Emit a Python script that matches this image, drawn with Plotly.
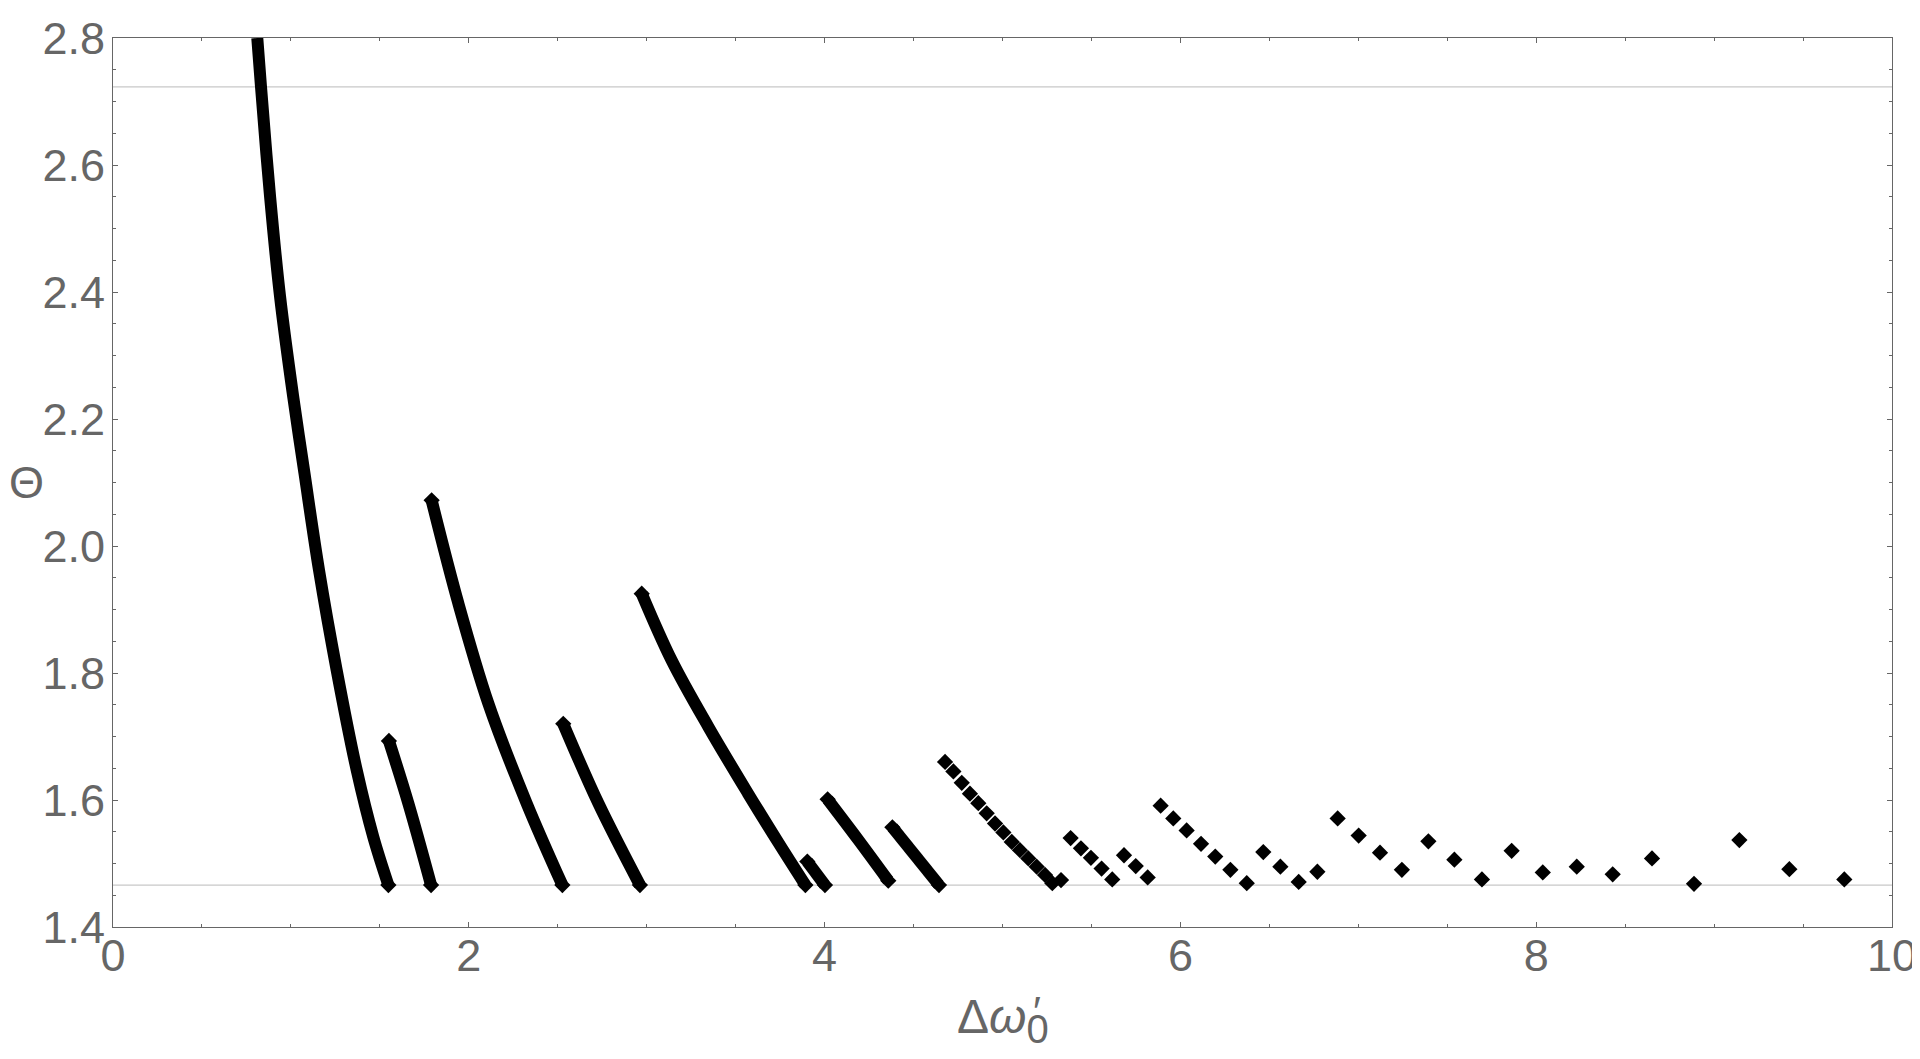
import plotly.graph_objects as go

# ---- data ----
seg1_x = [0.811, 0.832, 0.883, 0.939, 1.013, 1.076, 1.158, 1.257, 1.370, 1.463, 1.548]
seg1_y = [2.800, 2.723, 2.550, 2.393, 2.235, 2.115, 1.962, 1.805, 1.647, 1.542, 1.466]

seg2_x = [1.551, 1.660, 1.788]
seg2_y = [1.693, 1.595, 1.466]

seg3_x = [1.791, 1.941, 2.110, 2.325, 2.526]
seg3_y = [2.072, 1.910, 1.752, 1.595, 1.466]

seg4_x = [2.531, 2.728, 2.962]
seg4_y = [1.720, 1.595, 1.466]

seg5_x = [2.972, 3.140, 3.347, 3.568, 3.742, 3.892]
seg5_y = [1.925, 1.820, 1.715, 1.611, 1.532, 1.466]

seg6_x = [3.903, 4.002]
seg6_y = [1.503, 1.466]

seg7_x = [4.017, 4.190, 4.358]
seg7_y = [1.601, 1.537, 1.473]

seg8_x = [4.381, 4.643]
seg8_y = [1.557, 1.466]

points_x = [4.677, 4.724, 4.771, 4.817, 4.864, 4.911, 4.958, 5.005, 5.052, 5.098,
            5.145, 5.192, 5.239, 5.280, 5.329,
            5.383, 5.441, 5.497, 5.557, 5.617,
            5.683, 5.749, 5.816,
            5.889, 5.960, 6.035, 6.116, 6.196, 6.281, 6.373,
            6.466, 6.562, 6.665, 6.770,
            6.884, 7.002, 7.122, 7.245,
            7.394, 7.540, 7.695, 7.862, 8.037, 8.228, 8.430, 8.651, 8.887,
            9.142, 9.423, 9.732]
points_y = [1.660, 1.645, 1.627, 1.610, 1.595, 1.579, 1.563, 1.549, 1.534, 1.521,
            1.508, 1.495, 1.482, 1.469, 1.474,
            1.540, 1.524, 1.509, 1.492, 1.475,
            1.513, 1.496, 1.478,
            1.591, 1.571, 1.552, 1.531, 1.511, 1.490, 1.469,
            1.518, 1.495, 1.471, 1.487,
            1.571, 1.544, 1.517, 1.490,
            1.535, 1.506, 1.475, 1.520, 1.486, 1.495, 1.483, 1.508, 1.468,
            1.537, 1.491, 1.475]

ref_levels = [2.723, 1.466]

x_range = [0, 10]
y_range = [1.4, 2.8]

# ---- figure ----
AX = "#666666"
FONT = "Liberation Sans, Arial, sans-serif"
LW = 12
MS = 12.5
fig = go.Figure()

for lv in ref_levels:
    fig.add_shape(type="line", xref="paper", x0=0, x1=1, yref="y", y0=lv, y1=lv,
                  line=dict(color="#c8c8c8", width=1.3), layer="below")

segments = [(seg1_x, seg1_y, False), (seg2_x, seg2_y, True), (seg3_x, seg3_y, True),
            (seg4_x, seg4_y, True), (seg5_x, seg5_y, True), (seg6_x, seg6_y, True),
            (seg7_x, seg7_y, True), (seg8_x, seg8_y, True)]

for sx, sy, top_mark in segments:
    fig.add_trace(go.Scatter(x=sx, y=sy, mode="lines",
                             line=dict(color="black", width=LW, shape="spline", smoothing=1.0),
                             hoverinfo="skip", showlegend=False))
    ex = [sx[0], sx[-1]] if top_mark else [sx[-1]]
    ey = [sy[0], sy[-1]] if top_mark else [sy[-1]]
    fig.add_trace(go.Scatter(x=ex, y=ey, mode="markers",
                             marker=dict(symbol="diamond", size=MS, color="black",
                                         line=dict(width=0)),
                             hoverinfo="skip", showlegend=False))

fig.add_trace(go.Scatter(x=points_x, y=points_y, mode="markers",
                         marker=dict(symbol="diamond", size=MS, color="black",
                                     line=dict(width=0)),
                         showlegend=False))

axis_common = dict(
    showgrid=False, zeroline=False, showline=True, linecolor=AX, linewidth=1,
    mirror="ticks", ticks="inside", ticklen=5, tickwidth=1, tickcolor=AX,
    tickfont=dict(family=FONT, size=45, color=AX), automargin=False,
)

fig.update_xaxes(range=x_range, tick0=0, dtick=2, ticklabelstandoff=-11,
                 minor=dict(dtick=0.5, ticks="inside", ticklen=3, tickcolor=AX, showgrid=False),
                 **axis_common)
fig.update_yaxes(range=y_range, tick0=1.4, dtick=0.2, tickformat=".1f", ticklabelstandoff=-2,
                 minor=dict(dtick=0.05, ticks="inside", ticklen=3, tickcolor=AX, showgrid=False),
                 **axis_common)

fig.add_annotation(xref="paper", yref="paper", x=-0.0485, y=0.5, text="Θ", showarrow=False,
                   xanchor="center", yanchor="middle",
                   font=dict(family=FONT, size=45, color=AX))
fig.add_annotation(xref="paper", yref="paper", x=0.5, y=-0.0686,
                   text="Δ<i>ω</i><sub><span style=\"font-size:40px\">0</span></sub>",
                   showarrow=False, xanchor="center", yanchor="top",
                   font=dict(family=FONT, size=48, color=AX))
fig.add_annotation(xref="paper", yref="paper", x=0.5195, y=-0.0666, text="′",
                   showarrow=False, xanchor="center", yanchor="top",
                   font=dict(family=FONT, size=42, color=AX))

# page body adds an 8px offset, so the figure is 8px smaller than the window
fig.update_layout(width=1912, height=1051,
                  margin=dict(l=105, r=28, t=30, b=132),
                  paper_bgcolor="white", plot_bgcolor="white",
                  font=dict(family=FONT, color=AX))

fig.write_html("out.html")
